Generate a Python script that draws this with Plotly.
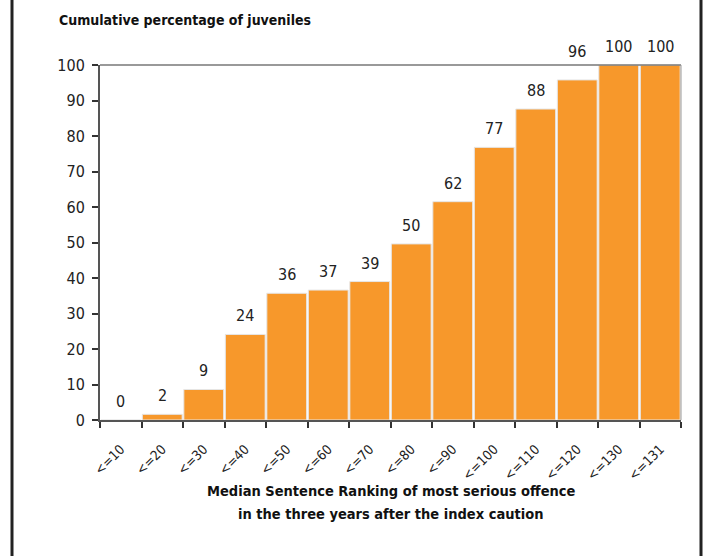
import plotly.graph_objects as go

categories = ["<=10", "<=20", "<=30", "<=40", "<=50", "<=60", "<=70",
              "<=80", "<=90", "<=100", "<=110", "<=120", "<=130", "<=131"]
values = [0, 1.6, 8.6, 24.1, 35.7, 36.6, 39.0, 49.6, 61.5, 76.8, 87.6, 95.8, 100, 100]
labels = ["0", "2", "9", "24", "36", "37", "39", "50", "62", "77", "88", "96", "100", "100"]
y_ticks = [0, 10, 20, 30, 40, 50, 60, 70, 80, 90, 100]

FONT = "DejaVu Sans Condensed, Liberation Sans Narrow, Arial Narrow, Liberation Sans, Arial, sans-serif"
ORANGE = "#F7982B"

fig = go.Figure()
fig.add_trace(go.Bar(
    x=categories, y=values,
    marker=dict(color=ORANGE, line=dict(color="#e6e6e6", width=1)),
))

# labels that would touch the plot's top border are lifted above it
label_annotations = [
    dict(x=c, y=v, text=t, xref="x", yref="y", showarrow=False,
         yanchor="bottom", yshift=(17 if 90 < v < 100 else 7),
         font=dict(size=16, family=FONT, color="#222222"))
    for c, v, t in zip(categories, values, labels)
]

fig.update_layout(
    width=707, height=556,
    margin=dict(l=100, r=26, t=65, b=136),
    paper_bgcolor="white", plot_bgcolor="white",
    bargap=0.04, showlegend=False,
    font=dict(family=FONT, size=15, color="#222222"),
    xaxis=dict(
        type="category", tickson="boundaries", ticks="outside", ticklen=6,
        tickwidth=2, tickcolor="#333333", tickangle=-45, ticklabelstandoff=14,
        showline=True, linecolor="#555555", linewidth=2, mirror=False,
        tickfont=dict(size=13.5, family=FONT, color="#222222"),
        showgrid=False,
    ),
    yaxis=dict(
        range=[0, 100], tickvals=y_ticks, ticks="outside", ticklen=6,
        tickwidth=2, tickcolor="#333333", ticklabelstandoff=4,
        showline=True, linecolor="#555555", linewidth=2,
        showgrid=False, zeroline=False,
        tickfont=dict(size=16, family=FONT, color="#222222"),
    ),
    shapes=[
        dict(type="line", xref="paper", yref="paper", x0=0, x1=1, y0=1, y1=1,
             line=dict(color="#777777", width=1.5)),
        dict(type="line", xref="paper", yref="paper", x0=1, x1=1, y0=0, y1=1,
             line=dict(color="#999999", width=1)),
        dict(type="line", xref="paper", yref="paper", x0=-88/581, x1=-88/581,
             y0=-136/355, y1=1 + 65/355, line=dict(color="#222222", width=3)),
        dict(type="line", xref="paper", yref="paper", x0=1 + 20/581, x1=1 + 20/581,
             y0=-136/355, y1=1 + 65/355, line=dict(color="#222222", width=3)),
    ],
    annotations=label_annotations + [
        dict(text="<b>Cumulative percentage of juveniles</b>", xref="paper", yref="paper",
             x=-43/581, y=1 + 45/355, xanchor="left", yanchor="middle", showarrow=False,
             font=dict(size=14, family=FONT, color="#111111")),
        dict(text="<b>Median Sentence Ranking of most serious offence</b>",
             xref="paper", yref="paper", x=0.5, y=-71/355, xanchor="center", yanchor="middle",
             showarrow=False, font=dict(size=14.5, family=FONT, color="#111111")),
        dict(text="<b>in the three years after the index caution</b>",
             xref="paper", yref="paper", x=0.5, y=-94/355, xanchor="center", yanchor="middle",
             showarrow=False, font=dict(size=14.5, family=FONT, color="#111111")),
    ],
)

fig.write_html("out.html")
